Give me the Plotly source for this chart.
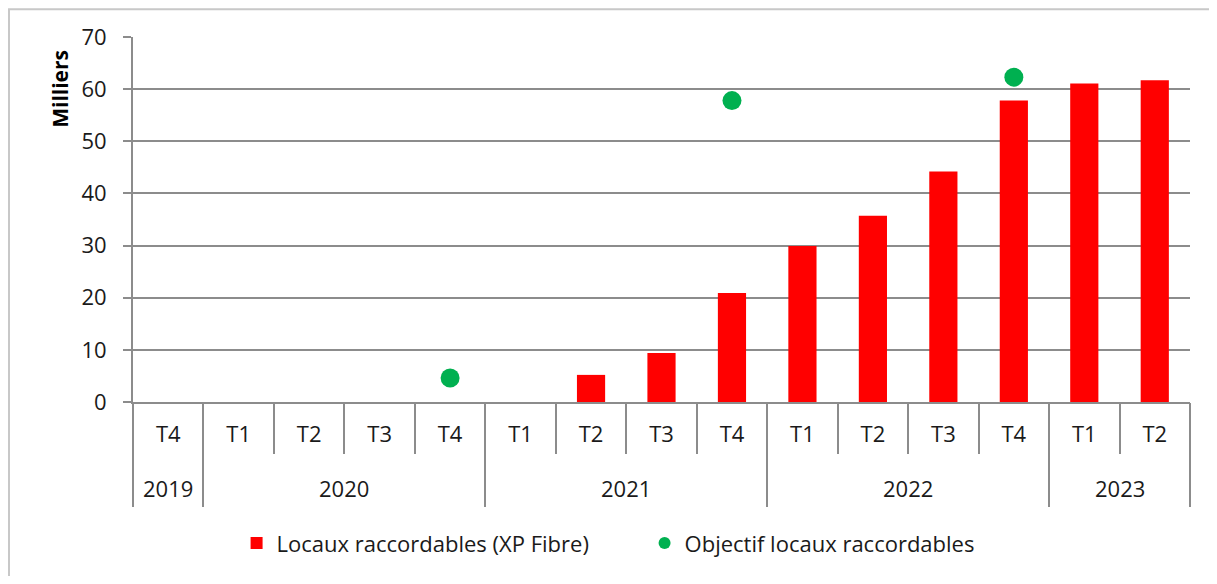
import plotly.graph_objects as go

years = ["2019", "2020", "2020", "2020", "2020", "2021", "2021", "2021", "2021",
         "2022", "2022", "2022", "2022", "2023", "2023"]
quarters = ["T4", "T1", "T2", "T3", "T4", "T1", "T2", "T3", "T4",
            "T1", "T2", "T3", "T4", "T1", "T2"]
locaux = [None, None, None, None, None, None, 5.2, 9.4, 20.9,
          29.9, 35.7, 44.2, 57.8, 61.1, 61.7]
objectif = [None, None, None, None, 4.6, None, None, None, 57.8,
            None, None, None, 62.3, None, None]

idx = list(range(len(quarters)))
bounds = [i - 0.5 for i in range(len(quarters) + 1)]
group_bounds = [-0.5] + [i - 0.5 for i in range(1, len(years)) if years[i] != years[i - 1]] + [len(years) - 0.5]
groups = []
for i, y in enumerate(years):
    if not groups or groups[-1][0] != y:
        groups.append([y, i, i])
    else:
        groups[-1][2] = i

FONT = "Open Sans"
GRAY = "#8c8c8c"
TXT = "#1a1a1a"
FS = 22

fig = go.Figure()
fig.add_trace(go.Bar(x=idx, y=locaux, name="Locaux raccordables (XP Fibre)",
                     marker=dict(color="#ff0000", line=dict(width=0)), width=0.4))
fig.add_trace(go.Scatter(x=idx, y=objectif, mode="markers", name="Objectif locaux raccordables",
                         marker=dict(color="#00b050", size=19, symbol="circle")))
# invisible traces to activate helper axes (separator ticks)
fig.add_trace(go.Scatter(x=[-0.5], y=[0], xaxis="x2", mode="markers", marker=dict(opacity=0),
                         showlegend=False, hoverinfo="skip"))
fig.add_trace(go.Scatter(x=[-0.5], y=[0], xaxis="x3", mode="markers", marker=dict(opacity=0),
                         showlegend=False, hoverinfo="skip"))

xr = [-0.5, len(quarters) - 0.5]
fig.update_layout(
    width=1201, height=568,
    margin=dict(l=125, r=19, t=29, b=172),
    paper_bgcolor="white", plot_bgcolor="white",
    font=dict(family=FONT, size=FS, color=TXT),
    xaxis=dict(range=xr, tickmode="array", tickvals=idx, ticktext=quarters,
               ticks="", showgrid=False, showline=True, linecolor=GRAY, linewidth=2,
               ticklabelstandoff=12, zeroline=False,
               tickfont=dict(family=FONT, size=FS, color=TXT)),
    xaxis2=dict(range=xr, overlaying="x", anchor="y", side="bottom", tickmode="array",
                tickvals=bounds, ticks="outside", ticklen=51, tickwidth=2, tickcolor=GRAY,
                showticklabels=False, showgrid=False, showline=False, zeroline=False),
    xaxis3=dict(range=xr, overlaying="x", anchor="y", side="bottom", tickmode="array",
                tickvals=group_bounds, ticks="outside", ticklen=104, tickwidth=2, tickcolor=GRAY,
                showticklabels=False, showgrid=False, showline=False, zeroline=False),
    yaxis=dict(range=[0, 70], dtick=10, showgrid=True, gridcolor=GRAY, gridwidth=2,
               ticks="outside", ticklen=8, tickwidth=2, tickcolor=GRAY,
               showline=True, linecolor=GRAY, linewidth=2, zeroline=False,
               ticklabelstandoff=12, tickfont=dict(family=FONT, size=FS, color=TXT)),
    legend=dict(orientation="h", x=0.484, xanchor="center", y=-0.387, yanchor="middle",
                font=dict(family=FONT, size=FS, color=TXT), itemsizing="constant",
                itemwidth=30, entrywidth=363, bgcolor="rgba(0,0,0,0)"),
    showlegend=True,
)

for name, a, b in groups:
    fig.add_annotation(x=(a + b) / 2, y=0, xref="x", yref="paper", yshift=-86,
                       text=name, showarrow=False, yanchor="middle", xanchor="center",
                       font=dict(family=FONT, size=FS, color=TXT))

fig.add_annotation(x=0, y=0.858, xref="paper", yref="paper", xshift=-73,
                   xanchor="center", yanchor="middle",
                   text="<b>Milliers</b>", textangle=-90, showarrow=False,
                   font=dict(family=FONT, size=21, color="#000000"))

fig.add_shape(type="rect", xref="paper", yref="paper", x0=-0.1173, x1=1.2,
              y0=-0.6, y1=1.0763, line=dict(color="#c8c8c8", width=2), layer="below")

fig.write_html("out.html")
